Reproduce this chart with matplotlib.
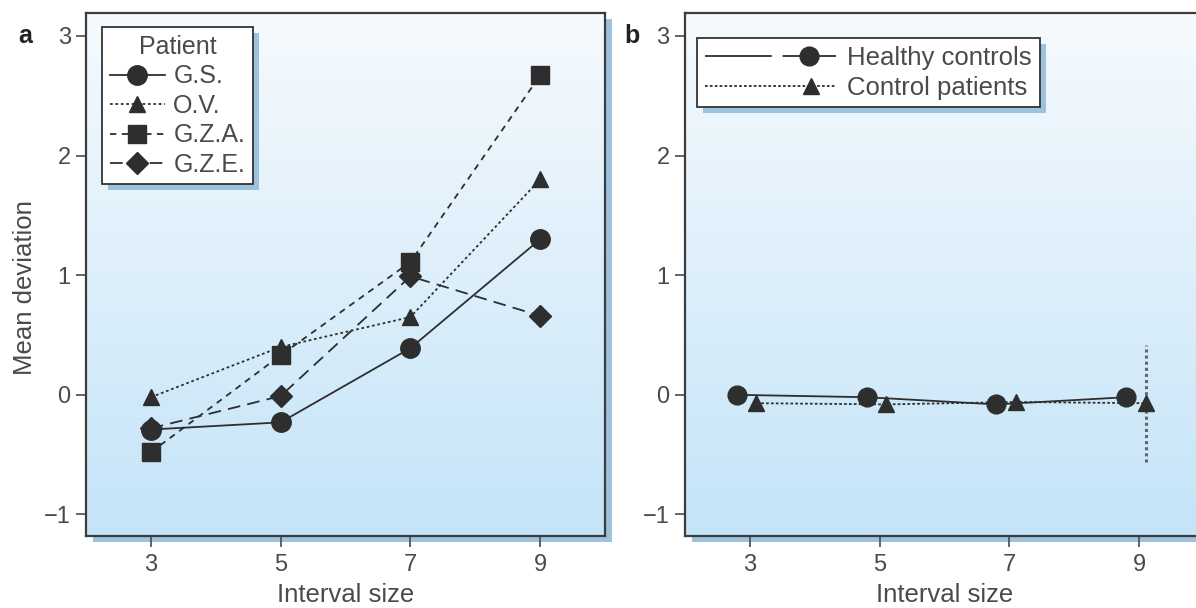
import numpy as np
import matplotlib
matplotlib.use("Agg")
import matplotlib.pyplot as plt
import matplotlib.patheffects as pe
from matplotlib.colors import LinearSegmentedColormap
from matplotlib.legend_handler import HandlerLine2D

# interval sizes on the x axis
intervals = [3, 5, 7, 9]

# panel a: mean deviation per patient
patients = ["G.S.", "O.V.", "G.Z.A.", "G.Z.E."]
gs_vals = [-0.29, -0.23, 0.39, 1.30]
ov_vals = [-0.02, 0.40, 0.65, 1.80]
gza_vals = [-0.48, 0.33, 1.11, 2.67]
gze_vals = [-0.28, -0.01, 0.99, 0.66]

# panel b: group means
groups = ["Healthy controls", "Control patients"]
healthy_vals = [0.00, -0.02, -0.08, -0.02]
control_vals = [-0.07, -0.08, -0.06, -0.07]
control_err = [0.0, 0.0, 0.0, 0.49]

INK = "#2e2e2e"
GREY = "#4a4a4a"
SHADOW = "#9cc2dd"

plt.rcParams["font.family"] = ["Liberation Sans", "DejaVu Sans"]
plt.rcParams["text.color"] = GREY
plt.rcParams["axes.labelcolor"] = GREY

bg = LinearSegmentedColormap.from_list("bg", ["#c4e4f8", "#f6fafd"])


class HandlerMarkerRight(HandlerLine2D):
    """Legend line with the marker moved along the handle, optional gap in the line."""

    def __init__(self, frac=0.75, gap=None, **kw):
        super().__init__(**kw)
        self.frac = frac
        self.gap = gap

    def create_artists(self, *args, **kwargs):
        arts = super().create_artists(*args, **kwargs)
        line = arts[0]
        xd = np.asarray(line.get_xdata(), dtype=float)
        x0, x1 = xd[0], xd[-1]
        line.set_xdata([x0, x0 + self.frac * (x1 - x0), x1])
        if self.gap is not None:
            line.set_linestyle(self.gap)
        return arts


def style_axes(ax):
    ax.set_xlim(2, 10)
    ax.set_ylim(-1.18, 3.19)
    ax.set_xticks(intervals)
    ax.set_yticks([-1, 0, 1, 2, 3])
    ax.tick_params(direction="out", width=1.2, colors=GREY, labelsize=17)
    ax.tick_params(axis="x", length=8, pad=5)
    ax.tick_params(axis="y", length=7, pad=4)
    for s in ax.spines.values():
        s.set_color("#3c3c3c")
        s.set_linewidth(1.6)
    ax.imshow(np.linspace(0, 1, 256).reshape(-1, 1), cmap=bg, aspect="auto",
              extent=[0, 1, 0, 1], transform=ax.transAxes, origin="lower",
              zorder=0, interpolation="bicubic")
    ax.patch.set_path_effects([
        pe.SimplePatchShadow(offset=(5, -4), shadow_rgbFace=SHADOW, alpha=1),
        pe.Normal()])
    ax.set_xlabel("Interval size", fontsize=18.5, labelpad=5)


def style_legend(leg):
    frame = leg.get_frame()
    frame.set_edgecolor("#333333")
    frame.set_linewidth(1.3)
    frame.set_facecolor("white")
    frame.set_alpha(1)
    frame.set_path_effects([
        pe.SimplePatchShadow(offset=(4.5, -4), shadow_rgbFace=SHADOW, alpha=1),
        pe.Normal()])


fig = plt.figure(figsize=(11.96, 6.08), dpi=100)
ax_a = fig.add_axes([0.0719, 0.1184, 0.434, 0.860])
ax_b = fig.add_axes([0.5727, 0.1184, 0.434, 0.860])

# panel a
line_kw = dict(color=INK, lw=1.3, mec=INK, mfc=INK)
ax_a.plot(intervals, gs_vals, ls="-", marker="o", ms=14, label=patients[0], **line_kw)
ax_a.plot(intervals, ov_vals, ls=(0, (1.5, 1.5)), marker="^", ms=12, label=patients[1], **line_kw)
ax_a.plot(intervals, gza_vals, ls=(0, (3.5, 3)), marker="s", ms=12.5, label=patients[2], **line_kw)
ax_a.plot(intervals, gze_vals, ls=(0, (7, 4)), marker="D", ms=11.5, label=patients[3], **line_kw)
style_axes(ax_a)
ax_a.set_ylabel("Mean deviation", fontsize=18.5)
ax_a.yaxis.set_label_coords(-0.095, 0.475)
leg_a = ax_a.legend(title="Patient", loc="upper left", bbox_to_anchor=(0.031, 0.973),
                    borderaxespad=0, fontsize=18, title_fontsize=18, fancybox=False,
                    handlelength=2.2, handletextpad=0.35, labelspacing=0.22,
                    borderpad=0.3, labelcolor=GREY)
style_legend(leg_a)
ax_a.text(-0.118, 3, "a", transform=ax_a.get_yaxis_transform(), fontsize=18,
          fontweight="bold", color="#222222", ha="center", va="center")

# panel b
hx = [x - 0.2 for x in intervals]
cx = [x + 0.1 for x in intervals]
hl, = ax_b.plot(hx, healthy_vals, ls="-", marker="o", ms=13.5, label=groups[0], **line_kw)
ctl = ax_b.errorbar(cx, control_vals, yerr=control_err, ls=(0, (1.5, 1.2)), marker="^",
                    ms=12, color=INK, mec=INK, mfc=INK, lw=1.3, capsize=0,
                    ecolor="#666666", elinewidth=2.2, label=groups[1])
ctl.lines[2][0].set_linestyle((0, (1, 1)))
style_axes(ax_b)
leg_b = ax_b.legend([hl, ctl.lines[0]], groups, loc="upper left",
                    bbox_to_anchor=(0.023, 0.952), borderaxespad=0, fontsize=18.5,
                    fancybox=False, handlelength=5.1, handletextpad=0.45,
                    labelspacing=0.22, borderpad=0.3, labelcolor=GREY,
                    handler_map={hl: HandlerMarkerRight(frac=0.80, gap=(0, (37, 6, 200, 0))),
                                 ctl.lines[0]: HandlerMarkerRight(frac=0.81)})
style_legend(leg_b)
ax_b.text(-0.102, 3, "b", transform=ax_b.get_yaxis_transform(), fontsize=18,
          fontweight="bold", color="#222222", ha="center", va="center")

fig.savefig("out.png", dpi=100)
